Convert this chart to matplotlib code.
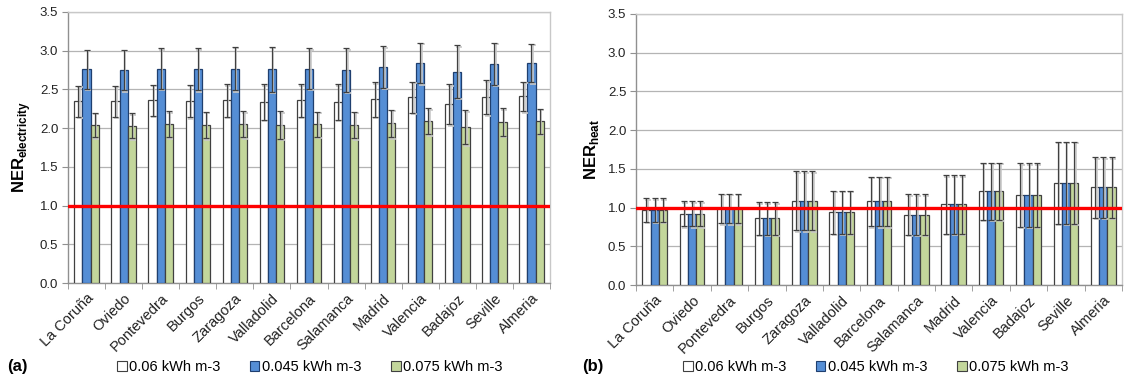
import matplotlib
matplotlib.use('Agg')
import matplotlib.pyplot as plt
import matplotlib.patches as patches
import matplotlib.transforms as mtransforms
import numpy as np

plt.rcParams['font.family'] = ['Liberation Sans', 'DejaVu Sans']
plt.rcParams['mathtext.fontset'] = 'custom'
plt.rcParams['mathtext.bf'] = 'Liberation Sans:bold'
plt.rcParams['mathtext.rm'] = 'Liberation Sans'

# data
cities = ['La Coruña', 'Oviedo', 'Pontevedra', 'Burgos', 'Zaragoza', 'Valladolid',
          'Barcelona', 'Salamanca', 'Madrid', 'Valencia', 'Badajoz', 'Seville', 'Almeria']
series = ['0.06 kWh m-3', '0.045 kWh m-3', '0.075 kWh m-3']

# (a) electricity
elec_006 = [2.35, 2.35, 2.36, 2.35, 2.36, 2.34, 2.36, 2.34, 2.37, 2.40, 2.31, 2.40, 2.41]
elec_0045 = [2.76, 2.75, 2.77, 2.76, 2.77, 2.76, 2.77, 2.75, 2.79, 2.84, 2.73, 2.83, 2.84]
elec_0075 = [2.04, 2.03, 2.05, 2.04, 2.05, 2.04, 2.05, 2.04, 2.06, 2.09, 2.01, 2.08, 2.09]
elec_err_006 = [0.20, 0.20, 0.20, 0.21, 0.21, 0.23, 0.21, 0.23, 0.22, 0.20, 0.26, 0.22, 0.19]
elec_err_0045 = [0.25, 0.26, 0.26, 0.27, 0.28, 0.29, 0.26, 0.28, 0.27, 0.26, 0.34, 0.27, 0.25]
elec_err_0075 = [0.16, 0.16, 0.17, 0.17, 0.17, 0.18, 0.16, 0.17, 0.18, 0.17, 0.22, 0.18, 0.16]

# (b) heat (same value for the three prices)
heat = [0.97, 0.92, 0.99, 0.86, 1.09, 0.94, 1.08, 0.91, 1.04, 1.21, 1.16, 1.32, 1.26]
heat_err = [0.15, 0.16, 0.19, 0.21, 0.38, 0.28, 0.32, 0.26, 0.38, 0.37, 0.41, 0.53, 0.39]

face_colors = ['white', '#558ED5', '#C3D69B']
edge_colors = ['#404040', '#1F3F6F', '#404040']

W, H = 1129, 380
fig = plt.figure(figsize=(W / 100, H / 100), dpi=100)

ax_a = fig.add_axes([68 / W, 1 - 283 / H, (550 - 68) / W, (283 - 12) / H])
ax_b = fig.add_axes([636 / W, 1 - 285 / H, (1122 - 636) / W, (285 - 14) / H])


def draw_panel(ax, values, errors, ylabel):
    x = np.arange(len(cities))
    bw = 0.22
    offsets = [-bw, 0, bw]
    for i in range(3):
        xs = x + offsets[i]
        ax.bar(xs, values[i], width=bw, color=face_colors[i],
               edgecolor=edge_colors[i], linewidth=0.9, zorder=3)
        # light shadow of the error bars
        shadow = mtransforms.offset_copy(ax.transData, fig=fig, x=1.5, y=-1.5, units='dots')
        ax.errorbar(xs, values[i], yerr=errors[i], fmt='none', ecolor='#C8C8C8',
                    elinewidth=1.2, capsize=2.5, capthick=1.2, zorder=4, transform=shadow)
        ax.errorbar(xs, values[i], yerr=errors[i], fmt='none', ecolor='#404040',
                    elinewidth=0.9, capsize=2.5, capthick=0.9, zorder=5)
    ax.axhline(1.0, color='#FF0000', linewidth=2.4, zorder=6)

    ax.set_xlim(-0.5, len(cities) - 0.5)
    ax.set_ylim(0, 3.5)
    ax.set_yticks(np.arange(0, 3.51, 0.5))
    ax.set_yticklabels(['%.1f' % v for v in np.arange(0, 3.51, 0.5)], fontsize=9.5, color='#222222')
    ax.yaxis.grid(True, color='#B4B4B4', linewidth=0.9, zorder=0)
    ax.set_axisbelow(True)

    ax.set_xticks(x)
    ax.set_xticklabels(cities, rotation=45, ha='right', rotation_mode='anchor',
                       fontsize=10.5, color='#222222')
    ax.tick_params(axis='x', length=0, pad=6)
    ax.set_xticks(np.arange(-0.5, len(cities)), minor=True)
    ax.tick_params(axis='x', which='minor', length=4, color='#909090')
    ax.tick_params(axis='y', length=4, color='#909090', pad=3)

    for side in ['top', 'right']:
        ax.spines[side].set_color('#C8C8C8')
    for side in ['left', 'bottom']:
        ax.spines[side].set_color('#909090')
    for sp in ax.spines.values():
        sp.set_linewidth(1.0)

    ax.set_ylabel(ylabel, fontsize=12, labelpad=5)


draw_panel(ax_a, [elec_006, elec_0045, elec_0075],
           [elec_err_006, elec_err_0045, elec_err_0075],
           r'$\mathbf{NER}_{\mathbf{electricity}}$')
draw_panel(ax_b, [heat, heat, heat], [heat_err, heat_err, heat_err],
           r'$\mathbf{NER}_{\mathbf{heat}}$')

# legends and panel tags
handles = [patches.Patch(facecolor=face_colors[i], edgecolor=edge_colors[i], linewidth=0.8,
                         label=series[i]) for i in range(3)]
for cx, tag, tx in [(310 / W, '(a)', 7 / W), (876 / W, '(b)', 582 / W)]:
    fig.legend(handles=handles, loc='center', bbox_to_anchor=(cx, 1 - 367 / H), ncol=3,
               frameon=False, fontsize=10.5, handlelength=0.65, handleheight=0.65,
               handletextpad=0.2, columnspacing=2.0, borderaxespad=0)
    fig.text(tx, 1 - 367 / H, tag, fontsize=12, fontweight='bold', va='center', ha='left')

fig.savefig('out.png', dpi=100)
